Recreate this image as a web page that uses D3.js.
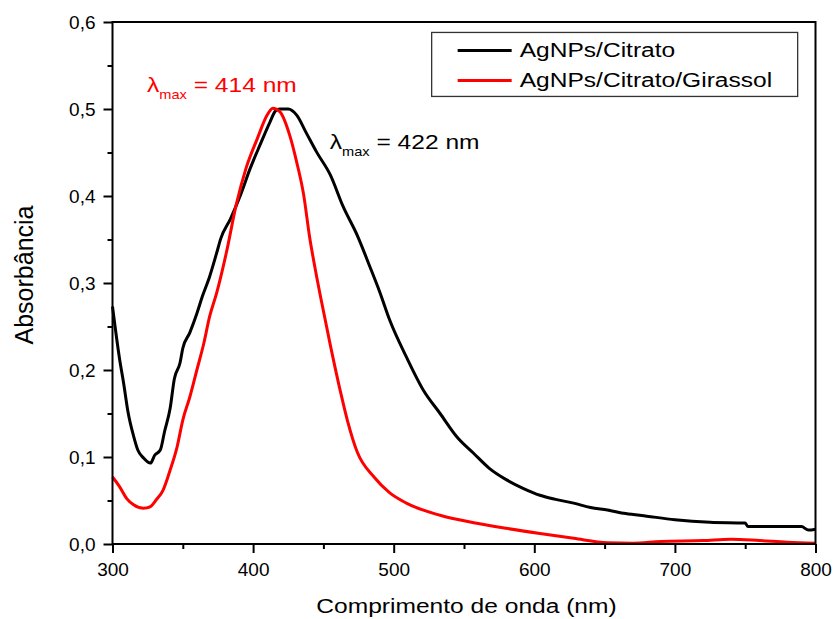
<!DOCTYPE html>
<html>
<head>
<meta charset="utf-8">
<script src="https://cdn.jsdelivr.net/npm/d3@7"></script>
<style>
  body { margin: 0; background: #fff; }
  svg { display: block; font-family: 'Liberation Sans', Arial, sans-serif; }
  .tick text { font-size: 19px; fill: #000; }
  .tick line { stroke: #000; stroke-width: 2; }
</style>
</head>
<body>
<svg width="833" height="619"></svg>
<script>
(function (d3) {
    'use strict';

    // AgNPs/Citrato
    const citratoNm = [300, 305, 308, 311, 315, 318, 322, 327, 330, 334, 337, 341, 344, 348, 350, 355, 360, 364, 369, 374,
        377, 384, 391, 398, 405, 412, 416, 419, 425, 431, 438, 445, 455, 464, 474, 483, 490, 497, 509, 521,
        533, 545, 557, 568, 580, 592, 604, 616, 628, 640, 652, 665, 680, 700, 725, 750, 752, 760, 790, 795, 800];
    const citratoAbs = [0.273, 0.213, 0.184, 0.152, 0.124, 0.108, 0.099, 0.093, 0.102, 0.108, 0.129, 0.156, 0.190, 0.208, 0.225, 0.243, 0.265, 0.285, 0.307, 0.334,
        0.351, 0.374, 0.401, 0.432, 0.459, 0.485, 0.498, 0.500, 0.500, 0.493, 0.472, 0.451, 0.424, 0.388, 0.355, 0.319, 0.290, 0.258, 0.215, 0.177,
        0.150, 0.123, 0.104, 0.087, 0.074, 0.064, 0.056, 0.051, 0.047, 0.042, 0.039, 0.035, 0.032, 0.028, 0.025, 0.024, 0.020, 0.020, 0.020, 0.016, 0.017];

    // AgNPs/Citrato/Girassol
    const girassolNm = [300, 305, 310, 315, 322, 327, 331, 336, 341, 346, 350, 355, 360, 365, 369, 374, 381, 388, 395, 403,
        410, 414, 419, 426, 431, 436, 440, 445, 448, 455, 462, 467, 474, 486, 497, 509, 533, 557, 580, 604,
        628, 652, 670, 690, 720, 740, 760, 780, 800];
    const girassolAbs = [0.077, 0.066, 0.0525, 0.045, 0.041, 0.043, 0.0506, 0.062, 0.085, 0.112, 0.1425, 0.169, 0.200, 0.231, 0.261, 0.288, 0.335, 0.390, 0.432, 0.466,
        0.493, 0.501, 0.497, 0.470, 0.439, 0.401, 0.355, 0.309, 0.284, 0.228, 0.176, 0.1425, 0.106, 0.077, 0.059, 0.047, 0.033, 0.0245, 0.018, 0.012,
        0.0065, 0.0015, 0.001, 0.003, 0.004, 0.0055, 0.004, 0.002, 0.001];

    const xTicks = [300, 400, 500, 600, 700, 800];
    const xMinor = [350, 450, 550, 650, 750];
    const yTicks = [0, 0.1, 0.2, 0.3, 0.4, 0.5, 0.6];
    const yMinor = [0.05, 0.15, 0.25, 0.35, 0.45, 0.55];

    const seriesNames = ['AgNPs/Citrato', 'AgNPs/Citrato/Girassol'];
    const seriesColors = ['#000000', '#ff0000'];

    const svg = d3.select('svg');
    const margin = {top: 22, right: 17.5, bottom: 75, left: 112.5};
    const width = 833 - margin.left - margin.right;
    const height = 619 - margin.top - margin.bottom;

    const x = d3.scaleLinear().domain([300, 800]).range([0, width]);
    const y = d3.scaleLinear().domain([0, 0.6]).range([height, 0]);

    const g = svg.append('g')
        .attr('transform', `translate(${margin.left},${margin.top})`);

    const comma = d => d3.format('.1f')(d).replace('.', ',');

    // minor ticks
    g.append('g')
        .attr('transform', `translate(0,${height})`)
        .call(d3.axisBottom(x).tickValues(xMinor).tickSize(5).tickFormat(''))
        .call(a => a.select('.domain').remove());
    g.append('g')
        .call(d3.axisLeft(y).tickValues(yMinor).tickSize(5).tickFormat(''))
        .call(a => a.select('.domain').remove());

    // major ticks
    g.append('g')
        .attr('transform', `translate(0,${height})`)
        .call(d3.axisBottom(x).tickValues(xTicks).tickSize(9).tickPadding(10))
        .call(a => a.select('.domain').remove());
    g.append('g')
        .call(d3.axisLeft(y).tickValues(yTicks).tickSize(9).tickPadding(8).tickFormat(comma))
        .call(a => a.select('.domain').remove());

    const line = d3.line()
        .curve(d3.curveMonotoneX)
        .x(d => x(d[0]))
        .y(d => y(d[1]));

    const series = [
        d3.zip(citratoNm, citratoAbs),
        d3.zip(girassolNm, girassolAbs)
    ];

    g.selectAll('path.curve').data(series)
        .enter().append('path')
        .attr('class', 'curve')
        .attr('d', line)
        .attr('fill', 'none')
        .attr('stroke', (d, i) => seriesColors[i])
        .attr('stroke-width', 3)
        .attr('stroke-linejoin', 'round');

    // frame
    g.append('rect')
        .attr('width', width)
        .attr('height', height)
        .attr('fill', 'none')
        .attr('stroke', '#000')
        .attr('stroke-width', 2);

    // stretched text helper
    const sx = 1.17;
    const label = (px, py, color) => g.append('text')
        .attr('transform', `translate(${px},${py}) scale(${sx},1)`)
        .attr('fill', color)
        .style('font-size', '21px');

    // lambda max notes
    const lambdaNote = (px, py, color, value) => {
        const t = label(px, py, color);
        t.append('tspan').text('λ');
        t.append('tspan').attr('dy', 7).style('font-size', '12.5px').text('max');
        t.append('tspan').attr('dy', -7).text(` = ${value} nm`);
    };
    lambdaNote(x(324.5), y(0.519), seriesColors[1], 414);
    lambdaNote(x(454.5), y(0.454), seriesColors[0], 422);

    // legend
    const legend = g.append('g')
        .attr('transform', `translate(${x(527)},${y(0.588)})`);
    legend.append('rect')
        .attr('width', 366)
        .attr('height', 64)
        .attr('fill', '#fff')
        .attr('stroke', '#333')
        .attr('stroke-width', 1.3);
    seriesNames.forEach((name, i) => {
        legend.append('line')
            .attr('x1', 26).attr('x2', 80)
            .attr('y1', 18 + i * 30).attr('y2', 18 + i * 30)
            .attr('stroke', seriesColors[i])
            .attr('stroke-width', 3);
        legend.append('text')
            .attr('transform', `translate(88,${24.7 + i * 30}) scale(${sx},1)`)
            .style('font-size', '21px')
            .text(name);
    });

    // axis titles
    label(width / 2 + 2.5, height + 69, '#000')
        .attr('text-anchor', 'middle')
        .text('Comprimento de onda (nm)');

    svg.append('text')
        .attr('transform', `translate(33,${margin.top + height / 2 - 8}) rotate(-90)`)
        .attr('text-anchor', 'middle')
        .style('font-size', '25px')
        .text('Absorbância');

}(d3));
</script>
</body>
</html>
